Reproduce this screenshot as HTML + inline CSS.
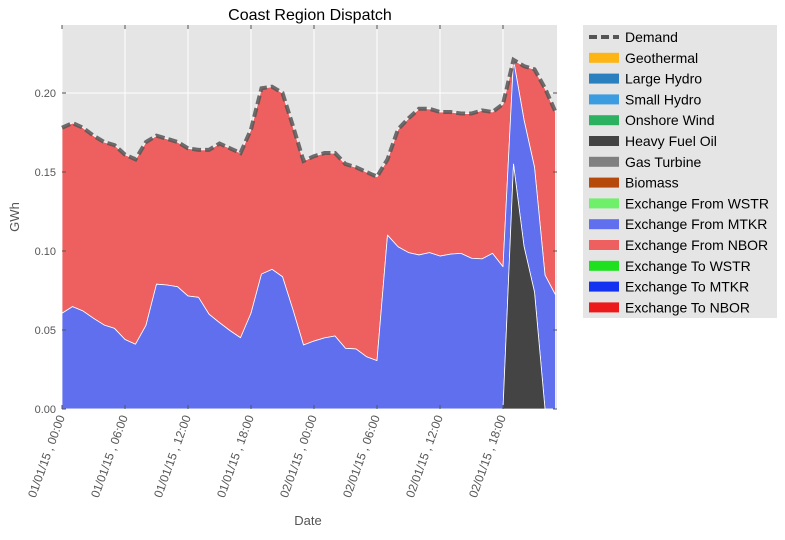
<!DOCTYPE html>
<html><head><meta charset="utf-8"><style>
body{margin:0;background:#fff;}
svg text{font-family:"Liberation Sans",sans-serif;}
</style></head><body>
<svg id="c" width="785" height="535" xmlns="http://www.w3.org/2000/svg"></svg>
<script>
const hours = Array.from({length:48},(_,i)=>i);
const demand=[0.178,0.181,0.178,0.173,0.169,0.167,0.161,0.158,0.169,0.173,0.171,0.169,0.165,0.164,0.164,0.168,0.165,0.162,0.177,0.203,0.204,0.200,0.179,0.157,0.160,0.162,0.162,0.155,0.153,0.150,0.147,0.158,0.177,0.184,0.190,0.190,0.188,0.188,0.187,0.187,0.189,0.188,0.193,0.221,0.217,0.215,0.203,0.188];
const heavyFuelOil=[0,0,0,0,0,0,0,0,0,0,0,0,0,0,0,0,0,0,0,0,0,0,0,0,0,0,0,0,0,0,0,0,0,0,0,0,0,0,0,0,0,0,0,0.155,0.103,0.074,0,0];
const mtkrTop=[0.0606,0.0648,0.062,0.0574,0.0532,0.051,0.044,0.041,0.053,0.079,0.0785,0.0774,0.0715,0.0707,0.060,0.0546,0.0496,0.0451,0.0606,0.0854,0.0884,0.0837,0.0627,0.0405,0.043,0.045,0.0462,0.0384,0.038,0.0331,0.0306,0.110,0.1027,0.099,0.0975,0.099,0.0968,0.098,0.0985,0.0954,0.095,0.0985,0.090,0.221,0.183,0.153,0.0848,0.0722];
const exchangeMTKR=mtkrTop.map((v,i)=>v-heavyFuelOil[i]);
const exchangeNBOR=demand.map((v,i)=>v-mtkrTop[i]);
const yTicks=[0,0.05,0.10,0.15,0.20];
const yTickLabels=["0.00","0.05","0.10","0.15","0.20"];
const xTicks=[0,6,12,18,24,30,36,42];
const xTickLabels=["01/01/15 , 00:00","01/01/15 , 06:00","01/01/15 , 12:00","01/01/15 , 18:00","02/01/15 , 00:00","02/01/15 , 06:00","02/01/15 , 12:00","02/01/15 , 18:00"];
const legendNames=["Demand","Geothermal","Large Hydro","Small Hydro","Onshore Wind","Heavy Fuel Oil","Gas Turbine","Biomass","Exchange From WSTR","Exchange From MTKR","Exchange From NBOR","Exchange To WSTR","Exchange To MTKR","Exchange To NBOR"];
const legendColors=[null,"#fdb515","#2a7fbf","#3b9ce0","#2bb15f","#444444","#808080","#b54a0a","#6ef06a","#5f6fee","#ee6060","#1ee01e","#1433f0","#ec1a1a"];

const L=62,R=557,T=25,B=409;
const x=h=>L+h*10.5;
const y=v=>B-v*1580;
const svg=document.getElementById('c');
const NS="http://www.w3.org/2000/svg";
function mk(tag,attrs,parent){const e=document.createElementNS(NS,tag);for(const k in attrs)e.setAttribute(k,attrs[k]);(parent||svg).appendChild(e);return e;}

const bg=mk('rect',{x:L,y:T,width:R-L,height:B-T,fill:'#e5e5e5'});


yTicks.forEach((t,i)=>{
  const g=mk('line',{x1:L,x2:R,y1:y(t),y2:y(t),stroke:'#fff','stroke-width':1});
  
  
  const tx=mk('text',{x:L-6,y:y(t)+4,'text-anchor':'end','font-size':11,fill:'#555'});
  tx.textContent=yTickLabels[i];
  
  
});
xTicks.forEach((t,i)=>{
  const g=mk('line',{x1:x(t),x2:x(t),y1:T,y2:B,stroke:'#fff','stroke-width':1});
  
  
  const tx=mk('text',{x:0,y:0,'text-anchor':'end','font-size':12,fill:'#555',transform:`translate(${x(t)+3},${B+8}) rotate(-70)`});
  tx.textContent=xTickLabels[i];
  
  
});
function area(lower,upper,color,name){
  let d='M'+hours.map(h=>x(h)+','+y(upper[h])).join(' L');
  d+=' L'+hours.slice().reverse().map(h=>x(h)+','+y(lower[h])).join(' L')+'Z';
  const p=mk('path',{d:d,fill:color,stroke:'#fff','stroke-width':0.8,'stroke-linejoin':'round'});
  
  
}
const zero=hours.map(()=>0);
const s1=heavyFuelOil;
const s2=s1.map((v,i)=>v+exchangeMTKR[i]);
const s3=s2.map((v,i)=>v+exchangeNBOR[i]);
area(s2,s3,'#ee6060','area-exchange-from-nbor');
area(s1,s2,'#5f6fee','area-exchange-from-mtkr');
area(zero,s1,'#444444','area-heavy-fuel-oil');
const dl=mk('polyline',{points:hours.map(h=>x(h)+','+y(demand[h])).join(' '),fill:'none',stroke:'#555','stroke-opacity':0.85,'stroke-width':4,'stroke-dasharray':'9,4'});


yTicks.forEach(t=>{mk('line',{x1:L,x2:L+4,y1:y(t),y2:y(t),stroke:'#555'});mk('line',{x1:R,x2:R-4,y1:y(t),y2:y(t),stroke:'#555'});});
xTicks.forEach(t=>{mk('line',{x1:x(t),x2:x(t),y1:B,y2:B-4,stroke:'#555'});mk('line',{x1:x(t),x2:x(t),y1:T,y2:T+4,stroke:'#555'});});

const title=mk('text',{x:310,y:20,'text-anchor':'middle','font-size':16,fill:'#000'});
title.textContent='Coast Region Dispatch';


const xt=mk('text',{x:308,y:525,'text-anchor':'middle','font-size':13,fill:'#555'});
xt.textContent='Date';


const yt=mk('text',{x:0,y:0,'text-anchor':'middle','font-size':13,fill:'#555',transform:'translate(19,217) rotate(-90)'});
yt.textContent='GWh';



const lg=mk('rect',{x:583,y:25,width:194,height:293,fill:'#e5e5e5'});


legendNames.forEach((n,i)=>{
  const cy=37+i*20.8;
  if(legendColors[i]===null){
    const l=mk('line',{x1:589,x2:619,y1:cy,y2:cy,stroke:'#555','stroke-width':4,'stroke-dasharray':'8,4'});
    
    
  } else {
    const r=mk('rect',{x:589,y:cy-5,width:30,height:10,fill:legendColors[i]});
    
    
  }
  const t=mk('text',{x:625,y:cy+5,'font-size':14,fill:'#000'});
  t.textContent=n;
  
  
});
</script>
</body></html>
